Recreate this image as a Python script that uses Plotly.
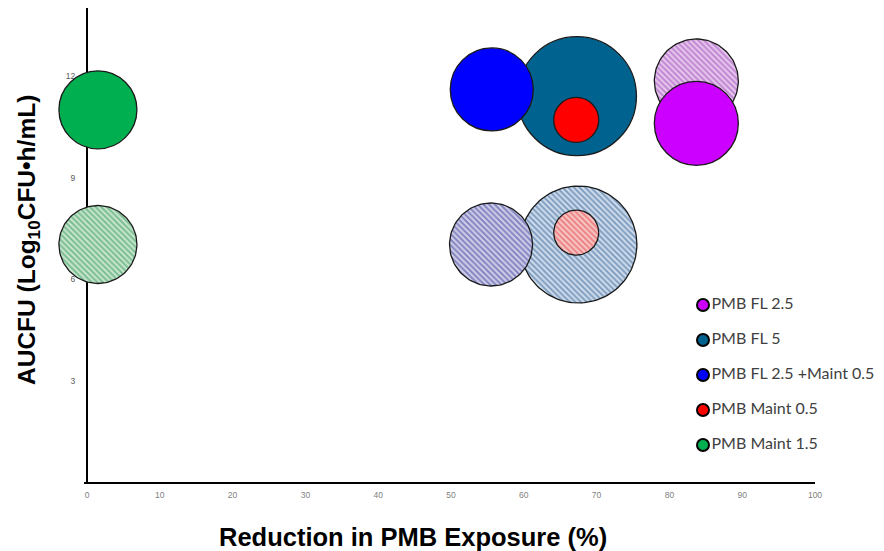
import numpy as np
import plotly.graph_objects as go

# ---------------- data ----------------
series = ["PMB FL 2.5", "PMB FL 5", "PMB FL 2.5 +Maint 0.5", "PMB Maint 0.5", "PMB Maint 1.5"]
colors = ["#CC00FF", "#00628E", "#0000FF", "#FF0000", "#00B050"]
hatch_fg = ["#9C45B5", "#2F5F93", "#3A3A98", "#E03A3A", "#2E9350"]
hatch_bg = ["#E6C8EE", "#D0DDED", "#CFCFEA", "#F8C8C8", "#C8E6D0"]

# solid bubbles
solid_x = [83.7, 67.3, 55.6, 67.2, 1.5]
solid_y = [10.6, 11.4, 11.6, 10.7, 11.0]
solid_size = [84, 119, 83, 45, 78]

# hatched bubbles
hatch_x = [83.7, 67.5, 55.5, 67.2, 1.5]
hatch_y = [11.85, 7.03, 7.03, 7.38, 7.03]
hatch_size = [84, 117, 83, 45, 78]

x_ticks = [0, 10, 20, 30, 40, 50, 60, 70, 80, 90, 100]
y_ticks = [3, 6, 9, 12]

x_title = "<b>Reduction in PMB Exposure (%)</b>"
y_title = "<b>AUCFU (Log<sub>10</sub>CFU•h/mL)</b>"

# ---------------- layout geometry ----------------
# the page body adds an 8px offset, so the figure is drawn 8px smaller
OFF = 8
W, H = 884 - OFF, 551 - OFF
PLOT_L = 55            # plot area left edge (window px), left of the y axis
AXIS_X = 87            # y-axis position (window px)
PLOT_R, PLOT_T, PLOT_B = 815, 8, 483
PW, PH = PLOT_R - PLOT_L, PLOT_B - PLOT_T
ML, MT = PLOT_L - OFF, PLOT_T - OFF
MR, MB = W - ML - PW, H - MT - PH
px_x = (PLOT_R - AXIS_X) / 100.0
XR = [-(AXIS_X - PLOT_L) / px_x, 100]
YR = [0, 14]
px_y = PH / (YR[1] - YR[0])
yaxis_pos = (AXIS_X - PLOT_L) / PW

# drawing order (back to front)
order = [1, 2, 3, 0, 4]

fig = go.Figure()
theta = np.linspace(0, 2 * np.pi, 121)

# hatched bubbles as pattern-filled circles
for i in order:
    rx = hatch_size[i] / 2 / px_x
    ry = hatch_size[i] / 2 / px_y
    fig.add_trace(go.Scatter(
        x=hatch_x[i] + rx * np.cos(theta),
        y=hatch_y[i] + ry * np.sin(theta),
        mode="lines", fill="toself",
        fillcolor=hatch_bg[i],
        fillpattern=dict(shape="\\", fgcolor=hatch_fg[i], bgcolor=hatch_bg[i],
                         size=4, solidity=0.5),
        line=dict(color="#1a1a1a", width=1.3),
        showlegend=False, hoverinfo="skip",
    ))

# solid bubbles
for i in order:
    fig.add_trace(go.Scatter(
        x=[solid_x[i]], y=[solid_y[i]], mode="markers",
        marker=dict(size=solid_size[i], color=colors[i],
                    line=dict(color="#1a1a1a", width=1.3)),
        showlegend=False, name=series[i], cliponaxis=False,
    ))

# custom legend drawn on an overlay axis measured in pixels of the plot area
LEG_X = 703 - PLOT_L
LEG_Y0 = 305 - PLOT_T
LEG_STEP = 35
fig.add_trace(go.Scatter(
    x=[LEG_X] * len(series),
    y=[LEG_Y0 + k * LEG_STEP for k in range(len(series))],
    mode="markers+text", text=series, textposition="middle right",
    textfont=dict(family="Lato, Open Sans, sans-serif", size=16, color="#404040"),
    marker=dict(size=12, color=colors, line=dict(color="black", width=2)),
    xaxis="x2", yaxis="y2", showlegend=False, hoverinfo="skip", cliponaxis=False,
))

fig.update_layout(
    width=W, height=H,
    margin=dict(l=ML, r=MR, t=MT, b=MB, pad=0),
    plot_bgcolor="white", paper_bgcolor="white",
    showlegend=False,
    xaxis=dict(
        range=XR, tickvals=x_ticks, showgrid=False, zeroline=False,
        showline=False, ticks="", layer="below traces",
        tickfont=dict(size=8.5, color="#7f7f7f", family="Arial"),
        ticklabelstandoff=5, automargin=False,
    ),
    yaxis=dict(
        range=YR, tickvals=y_ticks, showgrid=False, zeroline=False,
        anchor="free", position=yaxis_pos, layer="below traces",
        showline=True, linecolor="black", linewidth=2, ticks="",
        tickfont=dict(size=8.5, color="#595959", family="Arial"),
        ticklabelstandoff=9, automargin=False,
    ),
    xaxis2=dict(range=[0, PW], overlaying="x", visible=False, fixedrange=True),
    yaxis2=dict(range=[PH, 0], overlaying="y", visible=False, fixedrange=True),
    shapes=[
        dict(type="line", xref="paper", yref="paper",
             x0=(AXIS_X - 3 - PLOT_L) / PW, x1=1, y0=0, y1=0,
             line=dict(color="black", width=2.2), layer="above"),
    ],
    annotations=[
        dict(text=x_title, xref="paper", yref="paper",
             x=(413 - PLOT_L) / PW, y=(PLOT_B - 537) / PH, showarrow=False,
             xanchor="center", yanchor="middle",
             font=dict(family="Arial", size=25.5, color="black")),
        dict(text=y_title, xref="paper", yref="paper", textangle=-90,
             x=(28 - PLOT_L) / PW, y=(PLOT_B - 240) / PH, showarrow=False,
             xanchor="center", yanchor="middle",
             font=dict(family="Arial", size=24.5, color="black")),
    ],
)

fig.write_html("out.html")
